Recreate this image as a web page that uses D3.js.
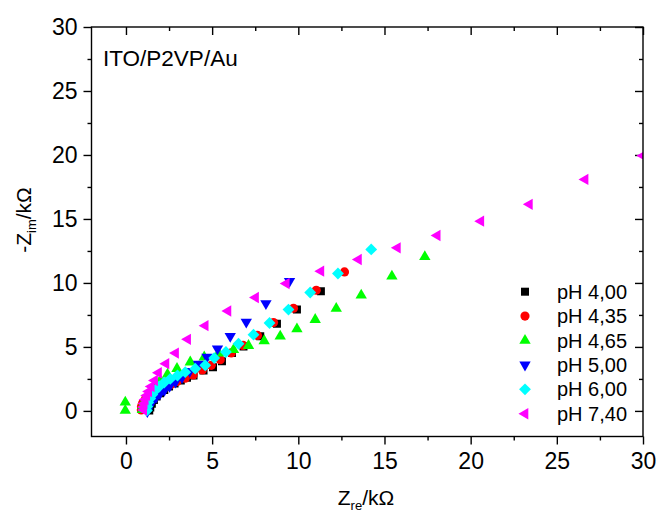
<!DOCTYPE html>
<html>
<head>
<meta charset="utf-8">
<script src="https://cdn.jsdelivr.net/npm/d3@7/dist/d3.min.js"></script>
<style>
html,body{margin:0;padding:0;background:#fff;}
svg{display:block;font-family:"Liberation Sans",Arial,sans-serif;}
</style>
</head>
<body>
<svg id="chart" width="657" height="517"></svg>
<script>
// ---- data ----
const seriesNames = ["pH 4,00", "pH 4,35", "pH 4,65", "pH 5,00", "pH 6,00", "pH 7,40"];
const seriesColors = ["#000000", "#ff0000", "#00ff00", "#0000ff", "#00ffff", "#ff00ff"];

const ph400X = [1.35,1.41,1.50,1.62,1.78,1.98,2.22,2.50,2.82,3.18,3.54,3.92,4.50,5.05,5.57,6.15,6.82,7.79,8.76,9.92,11.31];
const ph400Y = [0.03,0.27,0.55,0.85,1.12,1.38,1.64,1.90,2.15,2.38,2.59,2.77,3.16,3.42,3.89,4.52,5.04,5.83,6.82,7.92,9.35];

const ph435X = [0.89,0.90,0.97,1.12,1.35,1.62,1.92,2.25,2.60,2.97,3.44,3.90,4.43,4.95,5.47,6.11,6.80,7.63,8.56,9.72,11.04,12.68];
const ph435Y = [0.07,0.34,0.62,0.90,1.15,1.38,1.60,1.82,2.06,2.30,2.55,2.81,3.20,3.56,4.00,4.53,5.12,5.90,6.90,8.02,9.43,10.86];

const ph465X = [-0.04,-0.04,0.95,0.98,1.06,1.18,1.35,1.60,1.99,2.41,2.96,3.73,4.54,5.38,6.24,7.11,8.02,8.95,9.92,10.98,12.20,13.65,15.43,17.34];
const ph465Y = [0.03,0.68,0.10,0.40,0.72,1.05,1.42,1.85,2.38,2.85,3.30,3.81,4.20,4.50,4.78,5.10,5.47,5.83,6.40,7.13,8.00,9.04,10.52,12.04];

const ph500X = [1.24,1.27,1.33,1.43,1.57,1.75,1.97,2.23,2.53,2.87,3.25,3.70,4.21,4.70,5.31,6.05,6.98,8.12,9.49];
const ph500Y = [-0.05,0.15,0.36,0.58,0.82,1.07,1.34,1.62,1.93,2.26,2.62,3.10,3.66,4.21,4.86,5.83,6.95,8.39,10.13];

const ph600X = [1.21,1.24,1.29,1.41,1.53,1.70,1.93,2.22,2.57,2.99,3.44,4.02,4.60,5.12,5.80,6.53,7.40,8.33,9.43,10.69,12.30,14.23];
const ph600Y = [0.03,0.34,0.66,0.97,1.28,1.60,1.91,2.22,2.50,2.77,3.03,3.30,3.56,4.13,4.60,5.25,5.96,6.87,7.92,9.25,10.74,12.62];

const ph740X = [1.03,1.03,1.06,1.12,1.21,1.32,1.47,1.66,1.89,2.32,2.88,3.58,4.60,5.92,7.52,9.30,11.31,13.49,15.75,18.06,20.59,23.41,26.64,30.00];
const ph740Y = [0.07,0.31,0.58,0.89,1.21,1.52,1.91,2.38,2.98,3.69,4.52,5.59,6.66,7.81,8.86,9.95,10.92,11.83,12.74,13.71,14.83,16.14,18.09,19.94];

const xMajorTicks = [0,5,10,15,20,25,30];
const xMinorTicks = [2.5,7.5,12.5,17.5,22.5,27.5];
const yMajorTicks = [0,5,10,15,20,25,30];
const yMinorTicks = [2.5,7.5,12.5,17.5,22.5,27.5];

const annotation = "ITO/P2VP/Au";

// ---- drawing ----
const svg = d3.select("#chart");
const L = 91.5, R = 643, T = 27, B = 436.5;
const x = d3.scaleLinear().domain([-2, 30]).range([L, R]);
const y = d3.scaleLinear().domain([-2, 30]).range([B, T]);

const seriesData = [
  {xs: ph400X, ys: ph400Y, shape: d3.symbolSquare, size: 64, rot: 0},
  {xs: ph435X, ys: ph435Y, shape: d3.symbolCircle, size: 66, rot: 0},
  {xs: ph465X, ys: ph465Y, shape: d3.symbolTriangle, size: 56, rot: 0},
  {xs: ph500X, ys: ph500Y, shape: d3.symbolTriangle, size: 56, rot: 180},
  {xs: ph600X, ys: ph600Y, shape: d3.symbolSquare, size: 70, rot: 45},
  {xs: ph740X, ys: ph740Y, shape: d3.symbolTriangle, size: 56, rot: -90}
];

const fontTick = 23;

function styleAxis(g) {
  g.select(".domain").remove();
  g.selectAll(".tick line").attr("stroke", "#000").attr("stroke-width", 1.4);
  g.selectAll(".tick text").attr("font-size", fontTick).attr("fill", "#000")
    .attr("font-family", '"Liberation Sans",Arial,sans-serif');
}

// bottom
svg.append("g").attr("transform", `translate(0,${B})`)
  .call(d3.axisBottom(x).tickValues(xMajorTicks).tickSize(8).tickPadding(8).tickFormat(d3.format("d")))
  .call(styleAxis);
svg.append("g").attr("transform", `translate(0,${B})`)
  .call(d3.axisBottom(x).tickValues(xMinorTicks).tickSize(4).tickFormat(""))
  .call(styleAxis);
// top (inward)
svg.append("g").attr("transform", `translate(0,${T})`)
  .call(d3.axisTop(x).tickValues(xMajorTicks).tickSize(-8).tickFormat(""))
  .call(styleAxis);
svg.append("g").attr("transform", `translate(0,${T})`)
  .call(d3.axisTop(x).tickValues(xMinorTicks).tickSize(-4).tickFormat(""))
  .call(styleAxis);
// left
svg.append("g").attr("transform", `translate(${L},0)`)
  .call(d3.axisLeft(y).tickValues(yMajorTicks).tickSize(8).tickPadding(6).tickFormat(d3.format("d")))
  .call(styleAxis);
svg.append("g").attr("transform", `translate(${L},0)`)
  .call(d3.axisLeft(y).tickValues(yMinorTicks).tickSize(4).tickFormat(""))
  .call(styleAxis);
// right (inward)
svg.append("g").attr("transform", `translate(${R},0)`)
  .call(d3.axisRight(y).tickValues(yMajorTicks).tickSize(-8).tickFormat(""))
  .call(styleAxis);
svg.append("g").attr("transform", `translate(${R},0)`)
  .call(d3.axisRight(y).tickValues(yMinorTicks).tickSize(-4).tickFormat(""))
  .call(styleAxis);

// clip
svg.append("clipPath").attr("id", "plotclip")
  .append("rect").attr("x", L).attr("y", T).attr("width", R - L).attr("height", B - T);

const plot = svg.append("g").attr("clip-path", "url(#plotclip)");
seriesData.forEach((s, i) => {
  const pts = s.xs.map((v, j) => [v, s.ys[j]]);
  plot.append("g").selectAll("path").data(pts).join("path")
    .attr("d", d3.symbol().type(s.shape).size(s.size))
    .attr("transform", d => `translate(${x(d[0])},${y(d[1])}) rotate(${s.rot})`)
    .attr("fill", seriesColors[i]);
});

// frame
svg.append("rect").attr("x", L).attr("y", T).attr("width", R - L).attr("height", B - T)
  .attr("fill", "none").attr("stroke", "#000").attr("stroke-width", 1.4);

// legend
const legend = svg.append("g");
seriesNames.forEach((name, i) => {
  const s = seriesData[i];
  const ly = 291.7 + i * 24.4;
  legend.append("path")
    .attr("d", d3.symbol().type(s.shape).size(s.size))
    .attr("transform", `translate(525,${ly}) rotate(${s.rot})`)
    .attr("fill", seriesColors[i]);
  legend.append("text").attr("x", 557).attr("y", ly + 7)
    .attr("font-size", 20).text(name);
});

// annotation
svg.append("text").attr("x", 103).attr("y", 66).attr("font-size", 22.5).text(annotation);

// axis titles
const xt = svg.append("text").attr("x", 366).attr("y", 505).attr("text-anchor", "middle").attr("font-size", 21);
xt.append("tspan").text("Z");
xt.append("tspan").attr("font-size", 13).attr("dy", 5).text("re");
xt.append("tspan").attr("dy", -5).text("/kΩ");

const yt = svg.append("text").attr("transform", "translate(31,220) rotate(-90)")
  .attr("text-anchor", "middle").attr("font-size", 21);
yt.append("tspan").text("-Z");
yt.append("tspan").attr("font-size", 13).attr("dy", 5).text("im");
yt.append("tspan").attr("dy", -5).text("/kΩ");
</script>
</body>
</html>
